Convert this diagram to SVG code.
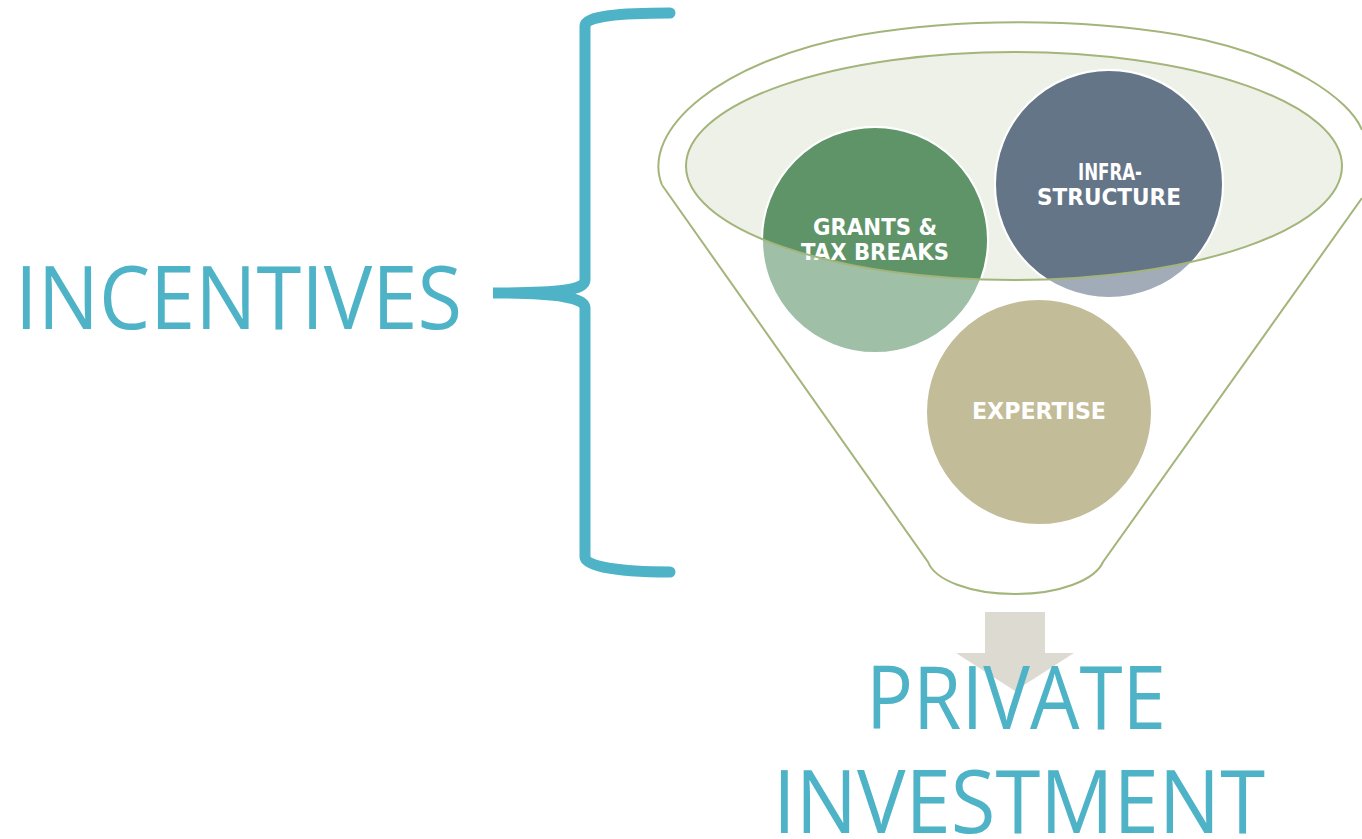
<svg xmlns="http://www.w3.org/2000/svg" width="1362" height="839" viewBox="0 0 1362 839">
<style>
.big{font-family:"Open Sans","Liberation Sans",sans-serif;font-size:88px;fill:#4FB3C7}
.lbl{font-family:"DejaVu Sans","Liberation Sans",sans-serif;font-weight:bold;font-size:23px;fill:#fff;text-anchor:middle}
.rim{fill:none;stroke:#A3B57A;stroke-width:2}
</style>
<defs>
<clipPath id="inner"><ellipse cx="1014" cy="166" rx="328" ry="114"/></clipPath>
</defs>
<rect width="1362" height="839" fill="#fff"/>
<g id="bracket">
<path d="M670 13 C620 13 585 16 585 26 L585 280 C585 290 560 293 493 293 C560 293 585 298 585 308 L585 557 C585 567 620 572 670 572" fill="none" stroke="#4FB3C7" stroke-width="11" stroke-linecap="round"/>
</g>
<g id="incentives"><text class="big" x="15" y="329" textLength="447" lengthAdjust="spacingAndGlyphs">INCENTIVES</text></g>
<g id="funnel">
<path class="rim" d="M662 185 C640 130 720 60 860 35 C960 18 1080 18 1180 35 C1290 55 1350 100 1362 130"/>
<path class="rim" d="M662 185 L928 562 C935 580 970 594 1015 594 C1060 594 1095 580 1103 562 L1362 198"/>
<ellipse cx="1014" cy="166" rx="328" ry="114" fill="#EEF1E8"/>
</g>
<g id="grants">
<circle cx="875" cy="240" r="113" fill="#9FBFA6" stroke="#fff" stroke-width="2"/>
<circle cx="875" cy="240" r="113" fill="#5E9467" stroke="#fff" stroke-width="2" clip-path="url(#inner)"/>
<text class="lbl" x="875" y="235" textLength="124" lengthAdjust="spacingAndGlyphs">GRANTS &amp;</text>
<text class="lbl" x="875" y="260" textLength="148" lengthAdjust="spacingAndGlyphs">TAX BREAKS</text>
</g>
<g id="infrastructure">
<circle cx="1109" cy="184" r="114" fill="#A2ABB8" stroke="#fff" stroke-width="2"/>
<circle cx="1109" cy="184" r="114" fill="#647588" stroke="#fff" stroke-width="2" clip-path="url(#inner)"/>
<text class="lbl" x="1110" y="180" textLength="64" lengthAdjust="spacingAndGlyphs">INFRA-</text>
<text class="lbl" x="1109" y="205" textLength="144" lengthAdjust="spacingAndGlyphs">STRUCTURE</text>
</g>
<g id="expertise">
<circle cx="1039" cy="412" r="113" fill="#C2BC99" stroke="#fff" stroke-width="2"/>
<text class="lbl" x="1039" y="419" textLength="134" lengthAdjust="spacingAndGlyphs">EXPERTISE</text>
</g>
<ellipse class="rim" cx="1014" cy="166" rx="328" ry="114"/>
<g id="connectors">
<path d="M985 612 L1045 612 L1045 653 L1074 653 L1015 691 L956 653 L985 653 Z" fill="#DDDBD1"/>
</g>
<g id="private">
<text class="big" x="866" y="729" textLength="300" lengthAdjust="spacingAndGlyphs">PRIVATE</text>
<text class="big" x="773" y="833" textLength="492" lengthAdjust="spacingAndGlyphs">INVESTMENT</text>
</g>
</svg>
